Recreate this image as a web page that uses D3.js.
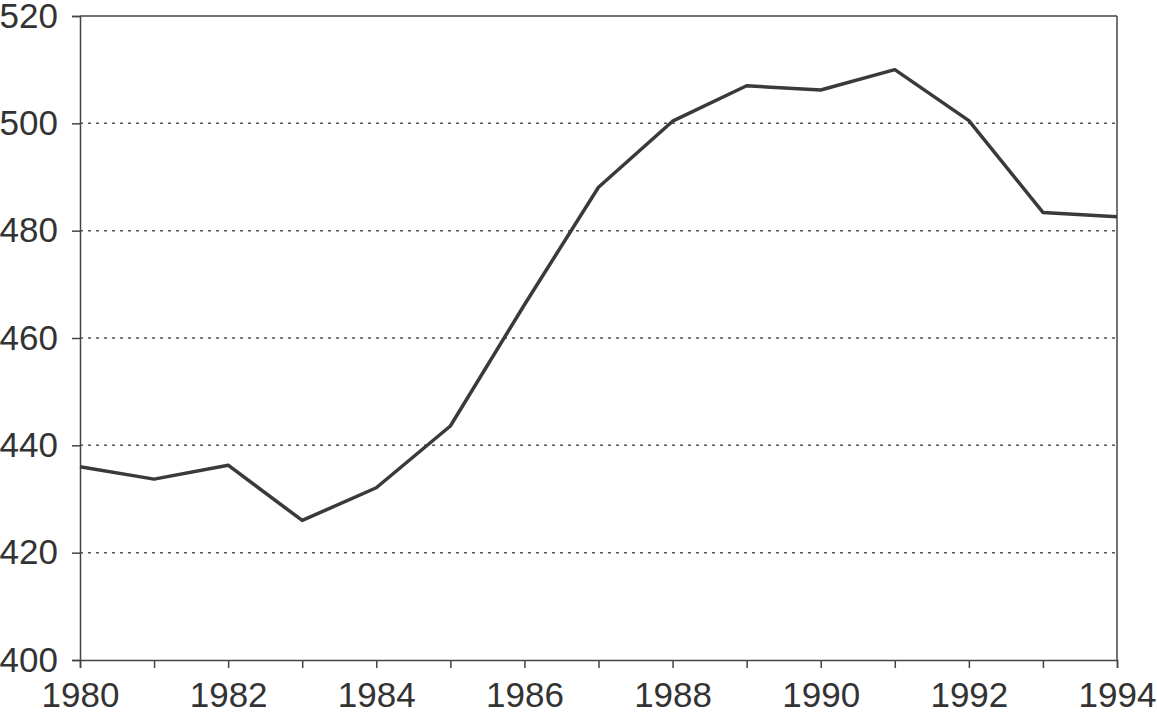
<!DOCTYPE html>
<html><head><meta charset="utf-8">
<script src="https://cdn.jsdelivr.net/npm/d3@7"></script>
<style>body{margin:0;background:#fff}svg{display:block}</style>
</head><body>
<svg id="c" width="1157" height="713"></svg>
<script>
const years = [1980,1981,1982,1983,1984,1985,1986,1987,1988,1989,1990,1991,1992,1993,1994];
const values = [436.0,433.7,436.3,426.0,432.1,443.6,466.2,488.1,500.4,507.0,506.2,510.0,500.5,483.4,482.6];
const yTicks = [400,420,440,460,480,500,520];
const xTickLabels = [1980,1982,1984,1986,1988,1990,1992,1994];

const svg = d3.select("#c");
const L=80, R=1117, T=16, B=660;
const x = d3.scaleLinear().domain([1980,1994]).range([L,R]);
const y = d3.scaleLinear().domain([400,520]).range([B,T]);
const font = "'Liberation Sans', Arial, sans-serif";

// gridlines
svg.append("g").selectAll("line").data(yTicks.filter(d=>d>400&&d<520)).join("line")
  .attr("x1",L).attr("x2",R).attr("y1",d=>y(d)).attr("y2",d=>y(d))
  .attr("stroke","#555").attr("stroke-width",1.5).attr("stroke-dasharray","3,5");

// frame
svg.append("line").attr("x1",L).attr("x2",R).attr("y1",T).attr("y2",T).attr("stroke","#444").attr("stroke-width",1.5);
svg.append("line").attr("x1",R).attr("x2",R).attr("y1",T).attr("y2",B).attr("stroke","#444").attr("stroke-width",1.5);

// y axis
const ya = svg.append("g").attr("transform",`translate(${L},0)`)
  .call(d3.axisLeft(y).tickValues(yTicks).tickSize(8).tickPadding(14).tickFormat(d3.format("d")));
// x axis
const xa = svg.append("g").attr("transform",`translate(0,${B})`)
  .call(d3.axisBottom(x).tickValues(years).tickSize(8).tickPadding(14)
    .tickFormat(d=>xTickLabels.includes(d)?d:""));
[ya,xa].forEach(g=>{
  g.select(".domain").attr("stroke","#444").attr("stroke-width",1.5);
  g.selectAll(".tick line").attr("stroke","#444").attr("stroke-width",1.5);
  g.selectAll("text").attr("font-family",font).attr("font-size",35).attr("fill","#333");
});
xa.selectAll("text").attr("dy","0.71em");

// line
svg.append("path").datum(years.map((d,i)=>[d,values[i]]))
  .attr("fill","none").attr("stroke","#3a3a3a").attr("stroke-width",3.5)
  .attr("stroke-linejoin","round")
  .attr("d",d3.line().x(d=>x(d[0])).y(d=>y(d[1])));
</script>
</body></html>
